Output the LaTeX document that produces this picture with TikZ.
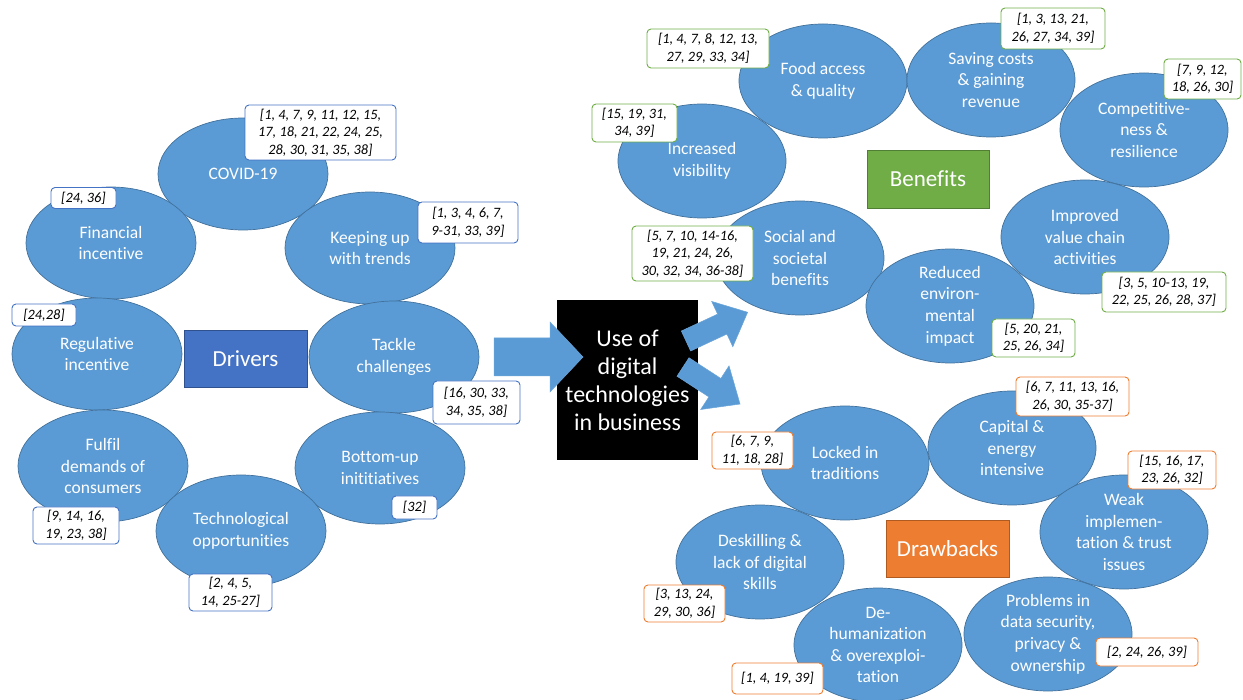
\documentclass[tikz,border=0pt]{standalone}
\usepackage{fontspec}
\setmainfont{Carlito}[Ligatures=NoCommon]
\usetikzlibrary{shapes.geometric}
\definecolor{ellfill}{HTML}{5B9BD5}
\definecolor{ellline}{HTML}{41719C}
\definecolor{drvfill}{HTML}{4472C4}
\definecolor{drvline}{HTML}{2F528F}
\definecolor{benfill}{HTML}{70AD47}
\definecolor{benline}{HTML}{507E32}
\definecolor{drwfill}{HTML}{ED7D31}
\definecolor{drwline}{HTML}{AE5A21}
\begin{document}
\begin{tikzpicture}[x=1pt,y=-1pt,
  ell/.style={ellipse, fill=ellfill, draw=ellline, line width=0.7pt, inner sep=0pt,
    minimum width=168pt, minimum height=114pt, text=white, align=center,
    font=\fontsize{17.5}{21.6}\selectfont},
  cite/.style={rectangle, rounded corners=4pt, fill=white, line width=0.9pt, inner sep=0pt,
    align=center, text=black, font=\fontsize{14.3}{17.6}\selectfont\itshape},
  citeD/.style={cite, draw=drvfill},
  citeB/.style={cite, draw=benfill},
  citeW/.style={cite, draw=drwfill},
  head/.style={rectangle, inner sep=0pt, line width=0.8pt, text=white,
    font=\fontsize{23}{27}\selectfont},
  arrowst/.style={fill=ellfill, draw=ellfill!90!white, line width=0.5pt}
]
\useasboundingbox (0,0) rectangle (1243,700);

% ---------- Drivers ----------
\node[ell, minimum width=170pt, minimum height=112pt] (covid) at (243,174) {COVID-19};
\node[ell, minimum width=170pt, minimum height=112pt] (fin) at (111,243) {Financial\\incentive};
\node[ell, minimum width=170pt, minimum height=112pt] (keep) at (370,248) {Keeping up\\with trends};
\node[ell, minimum width=170pt, minimum height=112pt] (reg) at (97,354) {Regulative\\incentive};
\node[ell, minimum width=170pt, minimum height=112pt] (tack) at (394,357) {Tackle\\challenges};
\node[ell, minimum width=170pt, minimum height=112pt] (bot) at (380,468) {Bottom-up\\inititiatives};
\node[ell, minimum width=170pt, minimum height=112pt] (ful) at (103,466) {Fulfil\\demands of\\consumers};
\node[ell, minimum width=170pt, minimum height=112pt] (tech) at (241,531) {Technological\\opportunities};
\node[head, fill=drvfill, draw=drvline, minimum width=123pt, minimum height=57pt] (drivers) at (245.5,358.5) {Drivers};

% ---------- Centre ----------
\node[rectangle, fill=black, inner sep=0pt, minimum width=141pt, minimum height=160pt,
  text=white, align=center, font=\fontsize{24}{28}\selectfont] (use) at (627.5,380)
  {Use of\\digital\\technologies\\in business};
\coordinate (a1s) at (494,357);
\coordinate (a2s) at (686,341);
\coordinate (a3s) at (683,367);
\path[arrowst, shift={(a1s)}] (0,-19) -- (56,-19) -- (56,-35) -- (89,0) -- (56,35) -- (56,19) -- (0,19) -- cycle;
\path[arrowst, shift={(a2s)}, rotate=25] (0,-11) -- (40,-11) -- (40,-25) -- (68,0) -- (40,25) -- (40,11) -- (0,11) -- cycle;
\path[arrowst, shift={(a3s)}, rotate=-33] (0,-11) -- (38,-11) -- (38,-26) -- (68,0) -- (38,26) -- (38,11) -- (0,11) -- cycle;

% ---------- Benefits ----------
\node[ell] (food) at (823,81) {Food access\\\& quality};
\node[ell] (save) at (991,80) {Saving costs\\\& gaining\\revenue};
\node[ell] (comp) at (1144,130) {Competitive-\\ness \&\\resilience};
\node[ell] (vis) at (702,161) {Increased\\visibility};
\node[ell] (imp) at (1085,237) {Improved\\value chain\\activities};
\node[ell] (soc) at (800,258) {Social and\\societal\\benefits};
\node[ell] (red) at (950,306) {Reduced\\environ-\\mental\\impact};
\node[head, fill=benfill, draw=benline, minimum width=122pt, minimum height=58pt] (benefits) at (928,179) {Benefits};

% ---------- Drawbacks ----------
\node[ell] (lock) at (845,463) {Locked in\\traditions};
\node[ell] (cap) at (1012,448) {Capital \&\\energy\\intensive};
\node[ell] (weak) at (1124,532) {Weak\\implemen-\\tation \& trust\\issues};
\node[ell] (desk) at (760,562) {Deskilling \&\\lack of digital\\skills};
\node[ell] (prob) at (1048,634) {Problems in\\data security,\\privacy \&\\ownership};
\node[ell] (deh) at (878,645) {De-\\humanization\\\& overexploi-\\tation};
\node[head, fill=drwfill, draw=drwline, minimum width=123pt, minimum height=57pt] (drawbacks) at (947.5,548.5) {Drawbacks};

% ---------- Citation boxes ----------
\node[citeD, minimum width=151pt, minimum height=55pt] (cCovid) at (320.5,132.5) {[1, 4, 7, 9, 11, 12, 15,\\17, 18, 21, 22, 24, 25,\\28, 30, 31, 35, 38]};
\node[citeD, minimum width=65pt, minimum height=21pt] (cFin) at (83.5,198) {[24, 36]};
\node[citeD, minimum width=100pt, minimum height=41pt] (cKeep) at (468,222.5) {[1, 3, 4, 6, 7,\\9-31, 33, 39]};
\node[citeD, minimum width=64pt, minimum height=22pt] (cReg) at (44,315) {[24,28]};
\node[citeD, minimum width=87pt, minimum height=43pt] (cTack) at (476.5,402.5) {[16, 30, 33,\\34, 35, 38]};
\node[citeD, minimum width=86pt, minimum height=37pt] (cFul) at (76,525.5) {[9, 14, 16,\\19, 23, 38]};
\node[citeD, minimum width=83pt, minimum height=37pt] (cTech) at (230.5,592.5) {[2, 4, 5,\\14, 25-27]};
\node[citeD, minimum width=45pt, minimum height=23pt] (cBot) at (414.5,507.5) {[32]};

\node[citeB, minimum width=122pt, minimum height=39pt] (cFood) at (708,48.5) {[1, 4, 7, 8, 12, 13,\\27, 29, 33, 34]};
\node[citeB, minimum width=104pt, minimum height=41pt] (cSave) at (1053,28.5) {[1, 3, 13, 21,\\26, 27, 34, 39]};
\node[citeB, minimum width=77pt, minimum height=40pt] (cComp) at (1202.5,79) {[7, 9, 12,\\18, 26, 30]};
\node[citeB, minimum width=85pt, minimum height=38pt] (cVis) at (634.5,123) {[15, 19, 31,\\34, 39]};
\node[citeB, minimum width=121pt, minimum height=55pt] (cSoc) at (692.5,253.5) {[5, 7, 10, 14-16,\\19, 21, 24, 26,\\30, 32, 34, 36-38]};
\node[citeB, minimum width=83pt, minimum height=38pt] (cRed) at (1033.5,338) {[5, 20, 21,\\25, 26, 34]};
\node[citeB, minimum width=124pt, minimum height=40pt] (cImp) at (1164,292) {[3, 5, 10-13, 19,\\22, 25, 26, 28, 37]};

\node[citeW, minimum width=81pt, minimum height=37pt] (cLock) at (752.5,450.5) {[6, 7, 9,\\11, 18, 28]};
\node[citeW, minimum width=113pt, minimum height=39pt] (cCap) at (1072.5,396.5) {[6, 7, 11, 13, 16,\\26, 30, 35-37]};
\node[citeW, minimum width=88pt, minimum height=38pt] (cWeak) at (1172,470) {[15, 16, 17,\\23, 26, 32]};
\node[citeW, minimum width=81pt, minimum height=37pt] (cDesk) at (684.5,603.5) {[3, 13, 24,\\29, 30, 36]};
\node[citeW, minimum width=91pt, minimum height=31pt] (cDeh) at (777.5,678.5) {[1, 4, 19, 39]};
\node[citeW, minimum width=102pt, minimum height=28pt] (cProb) at (1147,652) {[2, 24, 26, 39]};
\end{tikzpicture}
\end{document}
